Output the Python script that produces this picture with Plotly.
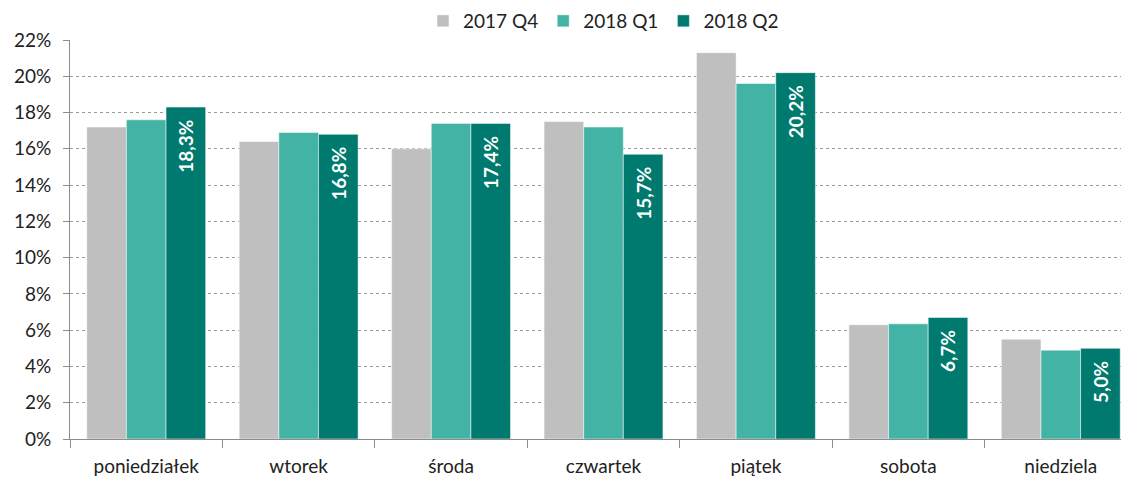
import plotly.graph_objects as go

categories = ["poniedziałek", "wtorek", "środa", "czwartek", "piątek", "sobota", "niedziela"]
q4_2017 = [17.2, 16.4, 16.0, 17.5, 21.3, 6.3, 5.5]
q1_2018 = [17.6, 16.9, 17.4, 17.2, 19.6, 6.35, 4.9]
q2_2018 = [18.3, 16.8, 17.4, 15.7, 20.2, 6.7, 5.0]
series_names = ["2017 Q4", "2018 Q1", "2018 Q2"]
colors = ["#BFBFBF", "#43B3A6", "#007A6E"]
y_ticks = list(range(0, 23, 2))

fig = go.Figure()
for name, vals, col in zip(series_names, [q4_2017, q1_2018, q2_2018], colors):
    show_text = name == "2018 Q2"
    fig.add_trace(go.Bar(
        x=categories, y=vals, name=name,
        marker=dict(color=col, line=dict(color="white", width=0.5)),
        text=[f"{v:.1f}%".replace(".", ",") + "\u2002" for v in vals] if show_text else None,
        textposition="inside" if show_text else "none",
        textangle=-90,
        insidetextanchor="end",
        textfont=dict(color="white", size=19, family="Lato", weight="bold"),
        hoverinfo="x+y",
    ))

fig.update_layout(
    width=1129, height=469,
    barmode="group", bargap=0.22, bargroupgap=0,
    plot_bgcolor="white", paper_bgcolor="white",
    margin=dict(l=62, r=0, t=32, b=38, autoexpand=False),
    font=dict(family="Lato", size=19, color="#222222"),
    legend=dict(orientation="h", x=0.5, xanchor="center", y=1.0, yanchor="bottom",
                font=dict(size=19), itemwidth=30, traceorder="normal"),
    uniformtext=dict(minsize=10, mode="show"),
)
fig.update_xaxes(
    range=[-0.5, 6.5], automargin=False,
    showline=True, linecolor="#8C8C8C", linewidth=1,
    ticks="outside", tickson="boundaries", ticklen=8, tickcolor="#8C8C8C",
    ticklabelstandoff=10,
    showgrid=False,
)
fig.update_yaxes(
    range=[0, 22], tickvals=y_ticks, ticktext=[f"{v}%" for v in y_ticks],
    automargin=False,
    showline=True, linecolor="#8C8C8C", linewidth=1,
    ticks="outside", ticklen=6, tickcolor="#8C8C8C",
    ticklabelstandoff=8,
    showgrid=True, gridcolor="#9A9A9A", griddash="dot", gridwidth=1.3,
    zeroline=False,
)

fig.write_html("out.html")
